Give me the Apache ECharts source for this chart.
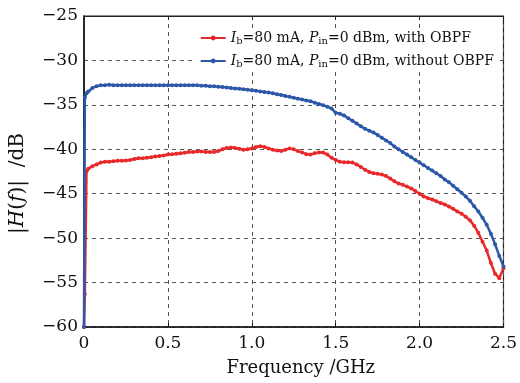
<!DOCTYPE html>
<html>
<head>
<meta charset="utf-8">
<script src="https://cdn.jsdelivr.net/npm/echarts@6/dist/echarts.min.js"></script>
<style>
  html, body { margin: 0; padding: 0; background: #fff; }
  #chart { width: 520px; height: 383px; }
</style>
</head>
<body>
<div id="chart"></div>
<script>
// 频率采样点 /GHz
const freq = [0, 0.005, 0.015,
  0.025, 0.05, 0.075, 0.1, 0.125, 0.15, 0.175, 0.2, 0.225, 0.25,
  0.275, 0.3, 0.325, 0.35, 0.375, 0.4, 0.425, 0.45, 0.475, 0.5,
  0.525, 0.55, 0.575, 0.6, 0.625, 0.65, 0.675, 0.7, 0.725, 0.75,
  0.775, 0.8, 0.825, 0.85, 0.875, 0.9, 0.925, 0.95, 0.975, 1.0,
  1.025, 1.05, 1.075, 1.1, 1.125, 1.15, 1.175, 1.2, 1.225, 1.25,
  1.275, 1.3, 1.325, 1.35, 1.375, 1.4, 1.425, 1.45, 1.475, 1.5,
  1.525, 1.55, 1.575, 1.6, 1.625, 1.65, 1.675, 1.7, 1.725, 1.75,
  1.775, 1.8, 1.825, 1.85, 1.875, 1.9, 1.925, 1.95, 1.975, 2.0,
  2.025, 2.05, 2.075, 2.1, 2.125, 2.15, 2.175, 2.2, 2.225, 2.25,
  2.275, 2.3, 2.325, 2.35, 2.375, 2.4, 2.425, 2.45, 2.475, 2.5];

// with OBPF (红)
const withObpf = [-60, -56.3, -42.5,
  -42.2, -41.9, -41.7, -41.5, -41.4, -41.4, -41.35, -41.3, -41.3, -41.25,
  -41.2, -41.1, -41.0, -41.0, -40.95, -40.9, -40.8, -40.75, -40.7, -40.6,
  -40.55, -40.5, -40.45, -40.4, -40.3, -40.3, -40.25, -40.25, -40.3, -40.3,
  -40.3, -40.2, -40.0, -39.85, -39.8, -39.85, -39.95, -40.05, -40.0, -39.9,
  -39.75, -39.65, -39.75, -39.9, -40.05, -40.15, -40.2, -40.05, -39.9, -40.0,
  -40.2, -40.35, -40.55, -40.6, -40.45, -40.35, -40.35, -40.6, -40.95, -41.2,
  -41.4, -41.45, -41.45, -41.5, -41.7, -42.0, -42.3, -42.55, -42.7, -42.75,
  -42.85, -43.0, -43.3, -43.6, -43.85, -44.0, -44.2, -44.4, -44.7, -45.0,
  -45.3, -45.5, -45.65, -45.85, -46.05, -46.2, -46.45, -46.7, -47.0, -47.25,
  -47.6, -48.0, -48.6, -49.4, -50.4, -51.4, -52.8, -54.0, -54.5, -53.4];

// without OBPF (蓝)
const withoutObpf = [-60, -34.2, -33.7,
  -33.5, -33.1, -32.9, -32.8, -32.8, -32.75, -32.8, -32.8, -32.8, -32.8,
  -32.8, -32.8, -32.8, -32.8, -32.8, -32.8, -32.8, -32.8, -32.8, -32.8,
  -32.8, -32.8, -32.8, -32.8, -32.8, -32.8, -32.8, -32.85, -32.85, -32.9,
  -32.9, -32.95, -33.0, -33.05, -33.1, -33.15, -33.2, -33.25, -33.3, -33.35,
  -33.4, -33.5, -33.55, -33.6, -33.7, -33.8, -33.9, -34.0, -34.1, -34.2,
  -34.3, -34.4, -34.5, -34.6, -34.75, -34.9, -35.05, -35.2, -35.4, -35.9,
  -36.0, -36.2, -36.5, -36.8, -37.1, -37.4, -37.7, -37.9, -38.1, -38.4,
  -38.7, -39.0, -39.3, -39.7, -40.0, -40.3, -40.6, -40.9, -41.2, -41.5,
  -41.8, -42.1, -42.4, -42.7, -43.0, -43.4, -43.7, -44.1, -44.5, -44.9,
  -45.3, -45.8, -46.4, -47.0, -47.7, -48.5, -49.5, -50.7, -52.0, -53.2];

const xTicks = [0, 0.5, 1.0, 1.5, 2.0, 2.5];
const yTicks = [-60, -55, -50, -45, -40, -35, -30, -25];

const serif = '"DejaVu Serif", "Liberation Serif", serif';
const nameRed = 'with OBPF';
const nameBlue = 'without OBPF';

const chart = echarts.init(document.getElementById('chart'));

const pairs = (ys) => freq.map((f, i) => [f, ys[i]]);

const dashed = { show: true, lineStyle: { color: '#555', type: [4, 4], width: 1 } };

const option = {
  animation: false,
  grid: {
    left: 82, right: 12, top: 16, bottom: 56,
    show: true, borderColor: '#222', borderWidth: 1.2
  },
  legend: {
    right: 22, top: 28,
    orient: 'vertical',
    itemGap: 8,
    itemWidth: 25,
    itemHeight: 6,
    backgroundColor: '#fff',
    padding: [3, 4, 3, 4],
    data: [nameRed, nameBlue],
    formatter: (name) => '{i|I}{sub|b}=80 mA, {i|P}{sub|in}=0 dBm, ' + name,
    textStyle: {
      fontFamily: serif, fontSize: 14, color: '#111',
      rich: {
        i: { fontFamily: serif, fontStyle: 'italic', fontSize: 14, color: '#111' },
        sub: { fontFamily: serif, fontSize: 10, color: '#111', verticalAlign: 'bottom', padding: [6, 0, 0, 0] }
      }
    }
  },
  xAxis: [{
    type: 'value', min: 0, max: 2.5, interval: 0.5,
    name: 'Frequency /GHz', nameLocation: 'middle', nameGap: 32,
    nameTextStyle: { fontFamily: serif, fontSize: 18, color: '#111', padding: [0, 0, 0, 14] },
    axisLine: { lineStyle: { color: '#111', width: 1.5 } },
    axisTick: { inside: true, length: 4, lineStyle: { color: '#111' } },
    axisLabel: {
      fontFamily: serif, fontSize: 17, color: '#111', margin: 8,
      formatter: (v) => (v === 0 ? '0' : v.toFixed(1))
    },
    splitLine: dashed
  }, {
    type: 'value', min: 0, max: 2.5, interval: 0.5, position: 'top',
    axisLine: { show: true, lineStyle: { color: '#222', width: 1.2 } },
    axisTick: { inside: true, length: 4, lineStyle: { color: '#222' } },
    axisLabel: { show: false },
    splitLine: { show: false }
  }],
  yAxis: {
    type: 'value', min: -60, max: -25, interval: 5,
    name: '|{i|H}({i|f})|  /dB', nameLocation: 'middle', nameGap: 56,
    nameTextStyle: {
      fontFamily: serif, fontSize: 20, color: '#111', padding: [0, 24, 0, 0],
      rich: { i: { fontFamily: serif, fontStyle: 'italic', fontSize: 20, color: '#111' } }
    },
    axisLine: { show: true, lineStyle: { color: '#111', width: 1.5 } },
    axisTick: { show: false },
    axisLabel: {
      fontFamily: serif, fontSize: 17, color: '#111', margin: 6,
      formatter: (v) => (v < 0 ? '\u2212' + Math.abs(v) : String(v))
    },
    splitLine: dashed
  },
  series: [{
    name: nameRed,
    type: 'line',
    data: pairs(withObpf),
    color: '#e8292b',
    symbol: 'circle', symbolSize: 4, showAllSymbol: true,
    lineStyle: { width: 2.5, color: '#e8292b' },
    z: 3
  }, {
    name: nameBlue,
    type: 'line',
    data: pairs(withoutObpf),
    color: '#2b58a8',
    symbol: 'circle', symbolSize: 4, showAllSymbol: true,
    lineStyle: { width: 2.5, color: '#2b58a8' },
    z: 4
  }]
};

chart.setOption(option);
</script>
</body>
</html>
